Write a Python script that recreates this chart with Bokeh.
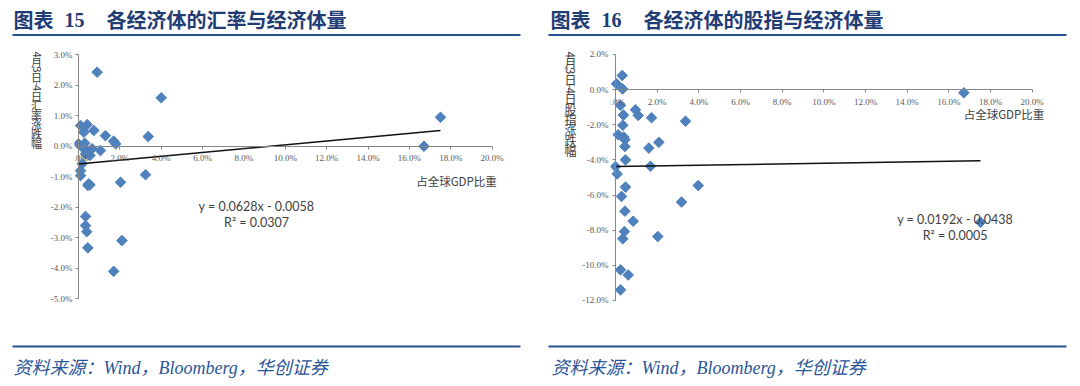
import numpy as np
from bokeh.plotting import figure
from bokeh.layouts import column, row
from bokeh.models import (Range1d, FixedTicker, NumeralTickFormatter, LinearAxis,
                          CustomLabelingPolicy)
from bokeh.core.properties import value
from bokeh.embed import file_html
from bokeh.resources import INLINE

# ---------------- data (percent) ----------------
fx_gdp = [0.9, 4.0, 0.1, 0.42, 0.26, 0.74, 1.3, 1.7, 1.8, 3.37, 0.0, 0.18, 0.42, 0.66,
          1.06, 0.34, 0.18, 0.1, 0.1, 0.5, 2.03, 0.45, 0.55, 0.34, 0.34, 0.4, 0.45,
          2.1, 1.7, 3.24, 17.5, 16.7, 0.3, 0.55]
fx_chg = [2.43, 1.59, 0.68, 0.71, 0.46, 0.52, 0.35, 0.17, 0.08, 0.32, 0.08, -0.03, -0.14, -0.08,
          -0.14, -0.25, -0.57, -0.8, -0.96, -1.23, -1.18, -1.28, -1.27, -2.3, -2.6, -2.8, -3.33,
          -3.09, -4.1, -0.93, 0.95, 0.0, 0.1, -0.3]

eq_gdp = [0.32, 0.05, 0.34, 0.24, 0.96, 1.09, 0.38, 1.73, 3.36, 0.35, 0.13, 0.4, 0.45,
          0.45, 1.6, 2.08, 0.48, 1.68, 0.0, 0.08, 3.97, 0.48, 0.29, 3.17, 0.45, 0.85,
          0.43, 0.35, 2.03, 0.24, 0.61, 0.24, 16.72, 17.52]
eq_chg = [0.8, 0.33, 0.04, -0.9, -1.15, -1.47, -1.45, -1.6, -1.8, -2.03, -2.57, -2.7, -2.85,
          -3.24, -3.33, -3.0, -4.0, -4.36, -4.38, -4.8, -5.46, -5.55, -6.08, -6.4, -6.92, -7.49,
          -8.08, -8.49, -8.36, -10.26, -10.55, -11.4, -0.18, -7.55]

x_ticks = [0, 2, 4, 6, 8, 10, 12, 14, 16, 18, 20]
fx_y_ticks = [-5, -4, -3, -2, -1, 0, 1, 2, 3]
eq_y_ticks = [-12, -10, -8, -6, -4, -2, 0, 2]

fx_fit = (0.0628, -0.0058)
eq_fit = (0.0192, -0.0438)
fx_eq_text = ["y = 0.0628x - 0.0058", "R² = 0.0307"]
eq_eq_text = ["y = 0.0192x - 0.0438", "R² = 0.0005"]

title_left = ("图表", "15", "各经济体的汇率与经济体量")
title_right = ("图表", "16", "各经济体的股指与经济体量")
ytitle_left = "4月3日-4日汇率涨跌幅"
ytitle_right = "4月3日-4日股指涨跌幅"
xtitle = "占全球GDP比重"
source = "资料来源：Wind，Bloomberg，华创证券"

# ---------------- styles ----------------
BLUE_M = "#4F81BD"
NAVY = "#1F3C74"
RULE = "#24508F"
SRC = "#2A5599"
AX = "#868686"
TXT = "#404040"
CJK = value("Noto Sans CJK SC")
SERIF = value("Liberation Serif")


def bare(fig):
    fig.outline_line_color = None
    fig.grid.visible = False
    fig.background_fill_color = "white"
    fig.border_fill_color = "white"
    return fig


def scatter_panel(gdp, chg, fit, yticks, x0, xs, y0, ys, fl, fr, ft, fb, left_px, right_px,
                  eq_text, eq_px, xt_px):
    def dx(px):
        return (px - x0) / xs

    def dy(py):
        return (y0 - py) / ys

    p = figure(frame_width=int(fr - fl), frame_height=int(fb - ft),
               x_range=Range1d(dx(fl), dx(fr)), y_range=Range1d(dy(fb), dy(ft)),
               toolbar_location=None, output_backend="svg",
               min_border_left=int(fl - left_px), min_border_right=int(right_px - fr),
               min_border_top=int(ft - 40), min_border_bottom=int(330 - fb))
    bare(p)
    x = np.array(gdp) / 100.0
    y = np.array(chg) / 100.0
    yt = FixedTicker(ticks=[t / 100.0 for t in yticks], minor_ticks=[])
    fmt = NumeralTickFormatter(format="0.0%")

    # x axis: fixed at y = 0
    xa = p.xaxis[0]
    xa.fixed_location = 0
    xa.ticker = FixedTicker(ticks=[t / 100.0 for t in x_ticks], minor_ticks=[])
    xa.bounds = (x_ticks[0] / 100.0, x_ticks[-1] / 100.0)
    xa.formatter = fmt
    xa.axis_line_color = AX
    xa.major_tick_line_color = AX
    xa.major_tick_in = 0
    xa.major_tick_out = 3
    xa.minor_tick_in = 0
    xa.minor_tick_out = 0
    xa.major_label_standoff = 4
    xa.major_label_text_font = "Liberation Serif"
    xa.major_label_text_font_size = "9px"
    xa.major_label_text_color = "#595959"

    # y labels: ordinary left axis at the frame edge (labels only)
    ya = p.yaxis[0]
    ya.ticker = yt
    ya.formatter = fmt
    ya.axis_line_color = None
    ya.major_tick_line_color = None
    ya.major_tick_in = 0
    ya.major_tick_out = 0
    ya.minor_tick_in = 0
    ya.minor_tick_out = 0
    ya.major_label_standoff = 2
    ya.major_label_text_font = "Liberation Serif"
    ya.major_label_text_font_size = "9px"
    ya.major_label_text_color = "#595959"

    # y axis line + ticks: fixed at x = 0 (its labels are shown by the axis above)
    yr = LinearAxis(fixed_location=0, ticker=yt, formatter=fmt,
                    bounds=(yticks[0] / 100.0, yticks[-1] / 100.0),
                    axis_line_color=AX, major_tick_line_color=AX,
                    major_tick_in=3, major_tick_out=0, minor_tick_in=0, minor_tick_out=0,
                    major_label_standoff=0, major_label_text_font_size="9px",
                    major_label_policy=CustomLabelingPolicy(code="return new Set()"))
    p.add_layout(yr, "right")

    p.scatter(x, y, marker="square", angle=np.pi / 4, size=7.5,
              fill_color=BLUE_M, line_color=BLUE_M)
    lx = np.array([0.0, x.max()])
    p.line(lx, fit[0] * lx + fit[1], line_color="#111111", line_width=1.5)

    p.text(x=[dx(eq_px[0])] * 2, y=[dy(eq_px[1]), dy(eq_px[2])], text=eq_text,
           text_font=value("Lato"), text_font_size="12.5px", text_color=TXT,
           text_align="center", text_baseline="middle")
    p.text(x=[dx(xt_px[0])], y=[dy(xt_px[1])], text=[xtitle], text_font=CJK,
           text_font_size="11.5px", text_color=TXT, text_align="center", text_baseline="middle")
    return p


def vtitle_panel(s, left_px, right_px, cx, top, bottom, fs):
    t = figure(width=int(right_px - left_px), height=290,
               x_range=Range1d(left_px, right_px), y_range=Range1d(330, 40),
               toolbar_location=None, output_backend="svg", min_border=0,
               x_axis_location=None, y_axis_location=None)
    bare(t)
    adv = []
    for ch in s:
        if ch.isascii():
            adv.append(0.35 * fs if ch == "-" else 0.58 * fs)
        else:
            adv.append(fs)
    k = (bottom - top) / sum(adv)
    ys_, pos = [], top
    for a in adv:
        ys_.append(pos + a * k / 2)
        pos += a * k
    angles = [-np.pi / 2 if ch.isascii() else 0.0 for ch in s]
    t.text(x=[cx] * len(s), y=ys_, text=list(s), angle=angles, text_font=CJK,
           text_font_size=f"{fs}px", text_color=TXT, text_align="center",
           text_baseline="middle")
    return t


# header
hdr = figure(width=1080, height=40, x_range=Range1d(0, 1080), y_range=Range1d(40, 0),
             toolbar_location=None, output_backend="svg", min_border=0,
             x_axis_location=None, y_axis_location=None)
bare(hdr)
hdr.segment(x0=[12, 548], y0=[34.5, 34.5], x1=[520, 1066], y1=[34.5, 34.5],
            line_color=RULE, line_width=2)
hdr.text(x=[13, 550], y=[19, 19], text=[title_left[0], title_right[0]], text_font=CJK,
         text_font_style="bold", text_font_size="20px", text_color=NAVY,
         text_align="left", text_baseline="middle")
hdr.text(x=[64, 601], y=[19.5, 19.5], text=[title_left[1], title_right[1]], text_font=SERIF,
         text_font_style="bold", text_font_size="20px", text_color=NAVY,
         text_align="left", text_baseline="middle")
hdr.text(x=[106, 643], y=[19, 19], text=[title_left[2], title_right[2]], text_font=CJK,
         text_font_style="bold", text_font_size="20px", text_color=NAVY,
         text_align="left", text_baseline="middle")

# footer
ftr = figure(width=1080, height=50, x_range=Range1d(0, 1080), y_range=Range1d(380, 330),
             toolbar_location=None, output_backend="svg", min_border=0,
             x_axis_location=None, y_axis_location=None)
bare(ftr)
ftr.segment(x0=[12, 548], y0=[346, 346], x1=[520, 1066], y1=[346, 346],
            line_color=RULE, line_width=2)
ftr.text(x=[13, 551], y=[367, 367], text=[source, source],
         text_font=value("Liberation Serif, Noto Sans CJK SC"), text_font_style="italic",
         text_font_size="18px", text_color=SRC, text_align="left", text_baseline="middle")

tL = vtitle_panel(ytitle_left, 0, 46, 36, 48, 154, 11)
pL = scatter_panel(fx_gdp, fx_chg, fx_fit, fx_y_ticks, 78, 2068.5, 145.8, 3050,
                   74, 512, 44, 308, 46, 540, fx_eq_text, (256, 205.7, 221.7), (456, 180))
tR = vtitle_panel(ytitle_right, 540, 579, 570, 48, 162, 12)
pR = scatter_panel(eq_gdp, eq_chg, eq_fit, eq_y_ticks, 615, 2083.5, 89.1, 1757,
                   610, 1050, 44, 308, 579, 1080, eq_eq_text, (954.6, 219, 235), (1003.5, 113))

layout = column(hdr, row(tL, pL, tR, pR), ftr)
open("out.html", "w").write(file_html(layout, INLINE))
